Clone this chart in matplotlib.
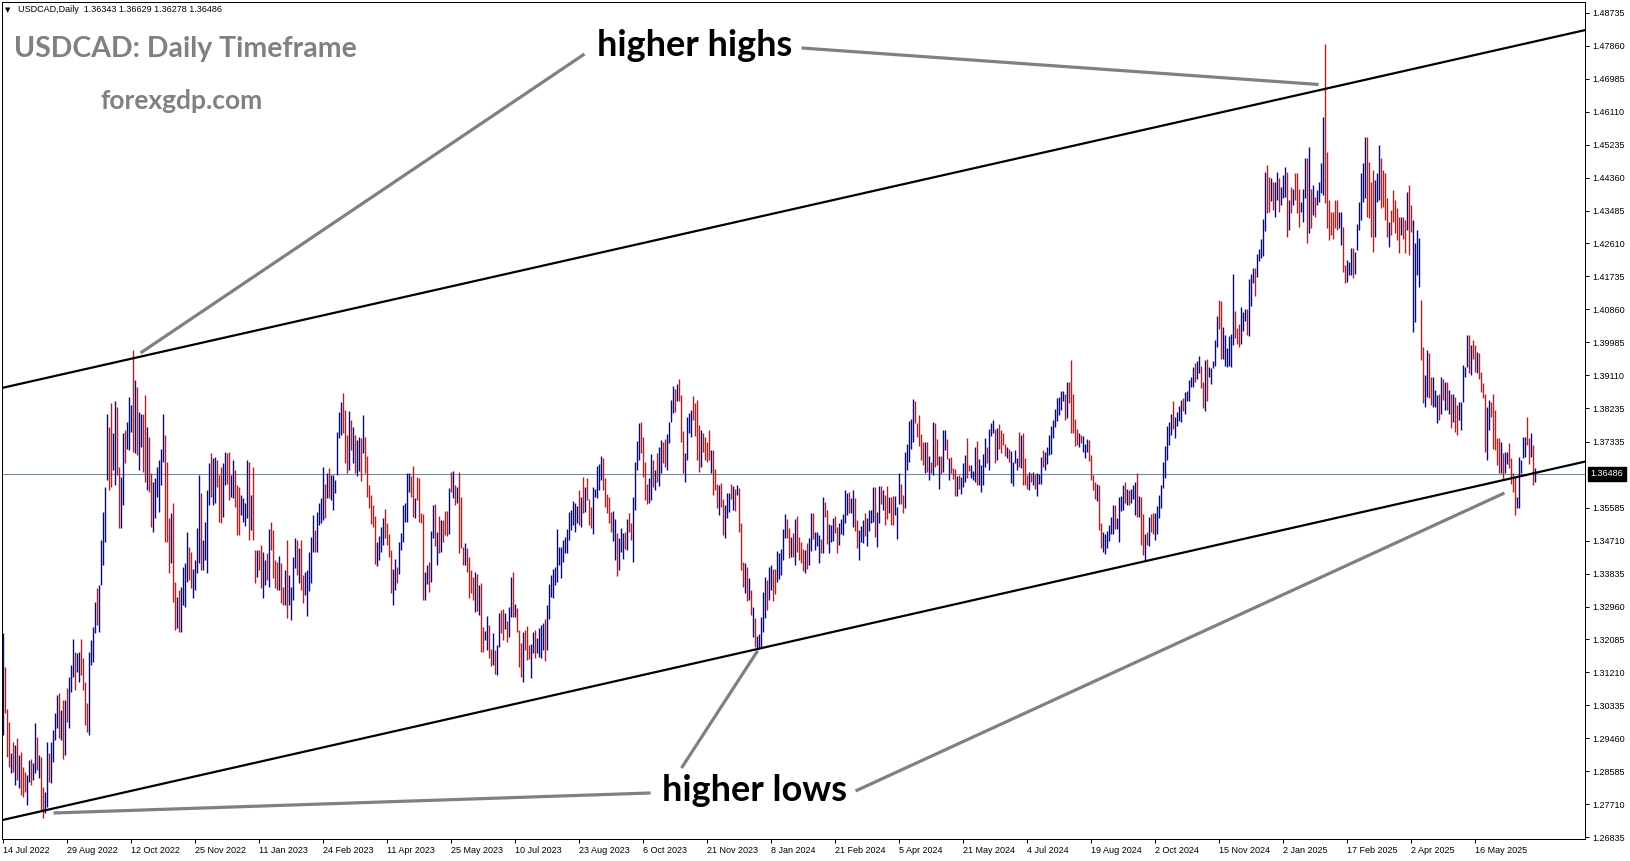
import numpy as np
import matplotlib
matplotlib.use("Agg")
import matplotlib.pyplot as plt
from matplotlib.transforms import blended_transform_factory

plt.rcParams['font.family'] = ['Liberation Sans', 'DejaVu Sans']

symbol = "USDCAD"
last_ohlc = [1.36343, 1.36629, 1.36278, 1.36486]

date_labels = ["14 Jul 2022", "29 Aug 2022", "12 Oct 2022", "25 Nov 2022", "11 Jan 2023",
               "24 Feb 2023", "11 Apr 2023", "25 May 2023", "10 Jul 2023", "23 Aug 2023",
               "6 Oct 2023", "21 Nov 2023", "8 Jan 2024", "21 Feb 2024", "5 Apr 2024",
               "21 May 2024", "4 Jul 2024", "19 Aug 2024", "2 Oct 2024", "15 Nov 2024",
               "2 Jan 2025", "17 Feb 2025", "2 Apr 2025", "16 May 2025"]
bars_per_label = 32

price_labels = ["1.26835", "1.27710", "1.28585", "1.29460", "1.30335", "1.31210",
                "1.32085", "1.32960", "1.33835", "1.34710", "1.35585", "1.37335",
                "1.38235", "1.39110", "1.39985", "1.40860", "1.41735", "1.42610",
                "1.43485", "1.44360", "1.45235", "1.46110", "1.46985", "1.47860", "1.48735"]

# daily highs / lows in pips (price * 10000)
bar_high = [
    13225, 13136, 13025, 12990, 12906, 12937, 12928, 12946, 12901, 12910,
    12870, 12857, 12848, 12888, 12892, 12879, 12986, 12950, 12901, 12897,
    12817, 12804, 12937, 12906, 12937, 12968, 13012, 13061, 13065, 13021,
    13048, 13048, 13079, 13110, 13141, 13211, 13176, 13172, 13176, 13211,
    13158, 13096, 13039, 13176, 13207, 13242, 13309, 13344, 13353, 13473,
    13548, 13615, 13809, 13774, 13836, 13756, 13841, 13827, 13668, 13640,
    13756, 13765, 13787, 13854, 13832, 13978, 13898, 13880, 13814, 13809,
    13809, 13858, 13774, 13747, 13650, 13628, 13637, 13668, 13685, 13716,
    13809, 13752, 13681, 13530, 13544, 13570, 13362, 13322, 13340, 13349,
    13402, 13411, 13495, 13455, 13442, 13397, 13420, 13504, 13646, 13597,
    13473, 13522, 13606, 13677, 13703, 13690, 13694, 13685, 13646, 13668,
    13677, 13708, 13703, 13708, 13646, 13685, 13659, 13619, 13615, 13592,
    13584, 13570, 13685, 13681, 13592, 13668, 13446, 13446, 13446, 13460,
    13442, 13420, 13437, 13502, 13522, 13500, 13420, 13415, 13430, 13411,
    13349, 13393, 13473, 13380, 13349, 13429, 13477, 13473, 13451, 13473,
    13380, 13389, 13393, 13442, 13482, 13539, 13500, 13548, 13570, 13584,
    13668, 13623, 13650, 13663, 13646, 13646, 13632, 13761, 13814, 13840,
    13864, 13818, 13752, 13816, 13792, 13774, 13752, 13739, 13747, 13743,
    13805, 13747, 13696, 13619, 13592, 13566, 13537, 13468, 13484, 13508,
    13532, 13555, 13518, 13490, 13446, 13397, 13422, 13402, 13468, 13492,
    13566, 13570, 13650, 13650, 13643, 13670, 13584, 13641, 13637, 13544,
    13542, 13389, 13406, 13415, 13497, 13566, 13568, 13495, 13537, 13526,
    13526, 13551, 13550, 13610, 13654, 13657, 13619, 13614, 13654, 13588,
    13455, 13464, 13451, 13429, 13393, 13375, 13389, 13382, 13353, 13358,
    13242, 13232, 13271, 13247, 13182, 13227, 13180, 13194, 13278, 13287,
    13289, 13280, 13258, 13296, 13375, 13389, 13304,
    13291, 13234, 13198,
    13229, 13234, 13244, 13194, 13196, 13229, 13234, 13212, 13240, 13247,
    13251, 13262, 13300, 13356, 13380, 13395, 13400, 13502, 13455, 13453,
    13473, 13482, 13502, 13546, 13553, 13577, 13570, 13563, 13606, 13586,
    13641, 13615, 13637, 13581, 13560, 13615, 13608, 13670, 13675, 13696,
    13690, 13637, 13595, 13588, 13548, 13551, 13528, 13491, 13479, 13504,
    13491, 13494, 13529, 13544, 13519, 13588, 13681, 13737, 13783, 13787,
    13747, 13681, 13623, 13637, 13701, 13685, 13659, 13703, 13719, 13739,
    13734, 13740, 13755, 13787, 13845, 13882, 13873, 13888, 13900, 13858,
    13763, 13705, 13801, 13810, 13818, 13856, 13836, 13845, 13779, 13765,
    13758, 13747, 13734, 13765, 13712, 13712, 13662, 13622, 13619, 13625,
    13581, 13566, 13597, 13599, 13623, 13616, 13608, 13619, 13610, 13519,
    13415, 13411, 13400, 13371, 13340, 13294, 13265, 13218, 13223, 13269,
    13335, 13375, 13366, 13400, 13406,
    13397, 13396, 13444, 13439, 13449,
    13502, 13542, 13529, 13506, 13482, 13492, 13529, 13537, 13482, 13468,
    13448, 13446, 13464, 13477, 13544, 13544, 13495, 13495, 13486, 13475,
    13586, 13573, 13553, 13515, 13513, 13530, 13537, 13508, 13519, 13528,
    13542, 13607, 13597, 13601, 13584, 13606, 13584, 13526, 13499, 13510,
    13526, 13545, 13530, 13553, 13553, 13615, 13615, 13548, 13617, 13617,
    13607, 13592, 13617, 13588, 13588, 13591, 13590, 13561, 13650, 13622,
    13592, 13706, 13728, 13790, 13794, 13848, 13841, 13785, 13805, 13755,
    13732, 13732, 13734, 13696, 13681, 13787, 13785, 13741, 13696, 13696,
    13765, 13765, 13740, 13692, 13694, 13663, 13661, 13644, 13646, 13639,
    13677, 13699, 13743, 13672, 13672, 13657, 13721, 13737, 13687, 13672,
    13701, 13743, 13721, 13767, 13783, 13792, 13767, 13770, 13781, 13765,
    13756, 13728, 13721, 13714, 13710, 13681, 13712, 13690, 13761,
    13751,
    13758, 13691, 13645, 13654, 13651, 13654, 13647, 13651, 13647, 13693,
    13712, 13707, 13721, 13751, 13777, 13791, 13821, 13851, 13853, 13868,
    13870, 13860, 13893, 13893, 13951, 13860, 13795, 13769, 13756, 13753,
    13749, 13727, 13741, 13739, 13699, 13646, 13628, 13623, 13619, 13518,
    13493, 13490, 13496, 13512, 13535, 13565, 13567, 13530, 13586, 13589,
    13619, 13628, 13609, 13605, 13609, 13620, 13628, 13651, 13591, 13586,
    13541, 13490, 13493, 13535, 13541, 13544, 13544, 13563, 13592, 13619,
    13679, 13723, 13777, 13786, 13809, 13842, 13800, 13814, 13828, 13846,
    13851, 13865, 13870, 13898, 13907, 13933, 13942, 13949, 13961, 13935,
    13893, 13952, 13953, 13933, 13930, 13949, 14005, 14067, 14110, 14107,
    14039, 14017, 13983, 14014, 14020, 14181, 14081, 14037, 14048, 14093,
    14079, 14086, 14086, 14166, 14179, 14195, 14197, 14233, 14247, 14272,
    14326, 14451, 14470, 14437, 14435, 14423,
    14425, 14452, 14434, 14412,
    14443, 14465, 14452, 14376, 14412, 14407, 14447, 14447, 14407, 14372,
    14407, 14487, 14487, 14518, 14407, 14416, 14385, 14403, 14425, 14474,
    14597, 14790, 14505, 14376, 14345, 14345, 14376, 14376, 14345, 14345,
    14306, 14204, 14217, 14213, 14248, 14248, 14239, 14314, 14372, 14447,
    14474, 14545, 14545, 14478, 14425, 14456, 14430, 14447, 14523, 14487,
    14456, 14447, 14381, 14319, 14350, 14403, 14376, 14354, 14332, 14332,
    14332, 14323, 14399, 14416, 14363, 14323, 14261, 14297, 14275, 14111,
    13987, 13911, 13978, 13969, 13907, 13907, 13871, 13858, 13862, 13907,
    13902, 13894, 13894, 13871, 13862, 13862, 13854, 13831, 13840, 13840,
    13938, 13933, 14017, 14017, 13991, 14004, 13991, 13973, 13969, 13920,
    13889, 13862, 13827, 13845, 13840, 13862, 13818, 13743, 13743, 13734,
    13703, 13707, 13707, 13730, 13690, 13650, 13641, 13588, 13694, 13685,
    13747, 13747, 13800, 13743, 13756, 13725, 13663,
]

bar_low = [
    12955, 13012, 12897, 12870, 12853, 12857, 12822, 12835, 12813, 12795,
    12791, 12804, 12768, 12830, 12822, 12835, 12853, 12861, 12839, 12755,
    12733, 12746, 12764, 12830, 12826, 12884, 12941, 12972, 12946, 12941,
    12892, 12901, 12990, 12972, 13070, 13110, 13074, 13123, 13096, 13114,
    13074, 12981, 12963, 12955, 13141, 13149, 13225, 13247, 13229, 13353,
    13406, 13468, 13632, 13606, 13615, 13659, 13619, 13646, 13504, 13504,
    13566, 13677, 13716, 13712, 13761, 13708, 13703, 13699, 13659, 13721,
    13654, 13628, 13606, 13601, 13508, 13495, 13530, 13588, 13548, 13619,
    13681, 13468, 13468, 13384, 13411, 13309, 13234, 13238, 13229, 13229,
    13300, 13296, 13362, 13366, 13344, 13318, 13340, 13384, 13411, 13393,
    13393, 13420, 13384, 13566, 13588, 13566, 13570, 13615, 13522, 13517,
    13535, 13619, 13623, 13579, 13588, 13584, 13561, 13486, 13486, 13539,
    13522, 13510, 13530, 13473, 13499, 13473, 13358, 13375, 13393, 13344,
    13318, 13353, 13367, 13349, 13446, 13371, 13344, 13340, 13340, 13305,
    13300, 13300, 13265, 13300, 13260, 13313, 13398, 13380, 13358, 13340,
    13305, 13327, 13271, 13336, 13358, 13442, 13442, 13442, 13513, 13517,
    13526, 13530, 13584, 13584, 13579, 13553, 13597, 13646, 13743, 13752,
    13756, 13677, 13650, 13659, 13712, 13677, 13650, 13643, 13655, 13630,
    13703, 13650, 13588, 13557, 13515, 13508, 13408, 13404, 13420, 13442,
    13459, 13477, 13459, 13428, 13333, 13300, 13340, 13359, 13382, 13446,
    13468, 13522, 13522, 13601, 13588, 13535, 13530, 13579, 13522, 13519,
    13313, 13313, 13357, 13335, 13362, 13477, 13457, 13406, 13437, 13442,
    13468, 13486, 13484, 13490, 13601, 13584, 13566, 13570, 13437, 13451,
    13406, 13406, 13389, 13318, 13333, 13313, 13282, 13285, 13274, 13176,
    13176, 13207, 13180, 13158, 13138, 13141, 13117, 13114, 13189, 13225,
    13207, 13235, 13202, 13216, 13269, 13269, 13269,
    13229, 13135, 13110,
    13095, 13180, 13154, 13156, 13105, 13172, 13158, 13172, 13163, 13158,
    13180, 13150, 13180, 13262, 13322, 13320, 13353, 13362, 13406, 13371,
    13415, 13437, 13439, 13473, 13499, 13513, 13495, 13517, 13513, 13508,
    13544, 13548, 13579, 13513, 13504, 13488, 13586, 13584, 13606, 13632,
    13606, 13561, 13544, 13517, 13493, 13471, 13420, 13377, 13393, 13442,
    13422, 13448, 13446, 13495, 13473, 13415, 13553, 13659, 13685, 13703,
    13641, 13579, 13569, 13570, 13579, 13613, 13606, 13628, 13616, 13652,
    13677, 13668, 13659, 13730, 13787, 13810, 13814, 13841, 13841, 13734,
    13650, 13628, 13685, 13756, 13746, 13792, 13748, 13685, 13654, 13668,
    13708, 13685, 13681, 13685, 13650, 13592, 13606, 13557, 13539, 13561,
    13486, 13477, 13530, 13548, 13581, 13553, 13551, 13592, 13495, 13393,
    13349, 13331, 13312, 13313, 13274, 13216, 13189, 13180, 13182, 13185,
    13229, 13265, 13287, 13313, 13340,
    13310, 13330, 13360, 13370, 13380,
    13420, 13477, 13477, 13424, 13428, 13428, 13406, 13442, 13420, 13411,
    13390, 13385, 13395, 13406, 13444, 13475, 13446, 13457, 13411, 13437,
    13439, 13535, 13462, 13439, 13468, 13470, 13491, 13439, 13460, 13489,
    13486, 13517, 13539, 13544, 13545, 13508, 13497, 13451, 13420, 13467,
    13466, 13483, 13457, 13497, 13519, 13522, 13482, 13455, 13519, 13568,
    13553, 13513, 13528, 13544, 13513, 13513, 13539, 13475, 13568, 13568,
    13545, 13557, 13659, 13681, 13714, 13734, 13783, 13746, 13723, 13685,
    13672, 13652, 13654, 13632, 13650, 13646, 13666, 13672, 13608, 13647,
    13654, 13712, 13687, 13631, 13650, 13634, 13591, 13590, 13608, 13595,
    13615, 13628, 13637, 13656, 13637, 13632, 13628, 13619, 13619, 13601,
    13619, 13666, 13678, 13659, 13749, 13756, 13678, 13685, 13716, 13705,
    13725, 13696, 13690, 13681, 13625, 13616, 13678, 13659, 13666,
    13665,
    13618, 13620, 13609, 13605, 13628, 13618, 13609, 13590, 13621, 13623,
    13667, 13658, 13674, 13698, 13702, 13744, 13772, 13788, 13806, 13819,
    13842, 13791, 13797, 13837, 13758, 13756, 13723, 13726, 13719, 13730,
    13707, 13691, 13707, 13682, 13632, 13607, 13583, 13577, 13499, 13451,
    13442, 13436, 13451, 13470, 13488, 13488, 13502, 13502, 13468, 13549,
    13553, 13572, 13567, 13565, 13572, 13581, 13539, 13533, 13535, 13460,
    13432, 13421, 13460, 13458, 13493, 13488, 13474, 13488, 13530, 13558,
    13611, 13637, 13686, 13726, 13753, 13769, 13744, 13777, 13788, 13786,
    13816, 13807, 13842, 13842, 13879, 13879, 13893, 13902, 13916, 13877,
    13823, 13816, 13842, 13907, 13888, 13930, 13935, 13986, 14033, 13955,
    13953, 13935, 13933, 13935, 13933, 13991, 14009, 13995, 13986, 13993,
    14028, 14054, 14017, 14014, 14095, 14156, 14121, 14172, 14214, 14223,
    14228, 14293, 14342, 14344, 14374, 14349,
    14332, 14376, 14345, 14363,
    14381, 14385, 14279, 14297, 14341, 14363, 14376, 14341, 14306, 14345,
    14319, 14381, 14261, 14288, 14301, 14336, 14332, 14363, 14372, 14394,
    14390, 14368, 14301, 14270, 14283, 14274, 14301, 14297, 14301, 14257,
    14186, 14155, 14159, 14177, 14177, 14168, 14181, 14243, 14297, 14323,
    14372, 14381, 14332, 14328, 14279, 14239, 14279, 14372, 14376, 14354,
    14359, 14323, 14279, 14252, 14283, 14319, 14288, 14270, 14235, 14283,
    14274, 14235, 14297, 14230, 14292, 14026, 14053, 14177, 14146, 13951,
    13836, 13827, 13854, 13849, 13832, 13827, 13827, 13783, 13792, 13809,
    13845, 13818, 13818, 13809, 13770, 13787, 13761, 13752, 13792, 13765,
    13840, 13907, 13933, 13916, 13911, 13955, 13920, 13916, 13902, 13867,
    13849, 13707, 13685, 13765, 13800, 13716, 13712, 13672, 13650, 13650,
    13632, 13650, 13676, 13663, 13623, 13601, 13539, 13557, 13557, 13650,
    13690, 13694, 13725, 13676, 13694, 13619, 13628,
]

# b = up bar (close > open), r = down bar
bar_dir = (
    "brrrbrbrbr" "rrbbrbbrbr" "rbbrbbbbrb" "rbrbbbrbbr" "rrrbbbbrbb"
    "bbbrrbbrrb" "brbbbrbrbb" "rrbrrbbbbb" "brrrbrrbrb" "bbbrrbbbbr"
    "bbbbrbbrrr" "bbrrbbrrrb" "bbbrbrrbrr"
    "bbrbrrrrbr" "rbrbbbbrbr" "rbbbbbrbbb" "brbrbbbbbb" "rrrbrbrbbr"
    "brrrrrrbbb" "brrrrbbrbb" "bbbbrrbrrr" "rbbrbbrbrb" "rrrbrbrbrr"
    "rbrrrrbrbr" "rbbrrbrbbr" "rbrbbrb"
    "rrr"
    "brrrbbrbbb" "brbbbbbbbb" "bbbbbbbbrb" "rbrrrbbbbb" "rrrrrbbrbb"
    "brbrrbbbbr" "rrrbbrbrbb" "rrbbbbrbrr" "rbbbbrrrrb" "rrrrbrrrbr"
    "rbbbrbrbrr" "rbrbrbrbbb" "bbrbb"
    "rrbbb"
    "bbrrbrbrrr" "rbrbbrbbbr" "brrbbbrrbb" "bbbrbbrrbb" "brbbbbrbbr"
    "brrbrrbbbr" "rbbbbbrrrr" "rbrbrbrrbr" "bbrbrrrbrb" "bbrrbbbrbb"
    "bbrbbbrbrr" "rrbrbbbbr"
    "b"
    "rrrbrbrbbb" "rbbbbbbbbb" "brbrrrrrbr" "bbbrrrrbrr" "bbbbbbrbbb"
    "brbrbbbrbr" "rbrbrrbbbb" "bbbbbrbbbb" "rbbbbbrbbr" "rbrbbbbbrr"
    "bbbbbbrrrb" "bbrbbbrbbb" "bbrrbr"
    "bbrb"
    "bbrbrbrrrb" "bbrbrbrbbb" "brrrrrrrbb" "rrbbbrbbbb" "bbrrrrbbbr"
    "rrrbrrrrrb" "rrbrrbbbbr" "rbbrrbbbrb" "rbrbrbrrbb" "bbbrbrrbrr"
    "rrbbrrrrrb" "rbbrrrrbbb" "bbrrbrb"
)

assert len(bar_high) == len(bar_low) == len(bar_dir), (len(bar_high), len(bar_low), len(bar_dir))

hi = np.array(bar_high) / 10000.0
lo = np.array(bar_low) / 10000.0
idx = np.arange(len(hi))
cols = ['#0000CD' if d == 'b' else '#FF0000' for d in bar_dir]

W, H = 1631, 861
fig = plt.figure(figsize=(W / 100, H / 100), dpi=100)
ax = fig.add_axes([2 / W, 22 / H, 1583 / W, 837 / H])
# 2 px per bar, bar centres on pixel centres
ax.set_xlim(-0.75, 790.75)
ax.set_ylim(1.26782, 1.49027)

# current price line
ax.axhline(last_ohlc[3], color='#778899', lw=0.75, zorder=1)

# bars
ax.vlines(idx, lo, hi, colors=cols, linewidth=1.0, antialiased=True, zorder=2)

# channel trend lines
ax.plot([-0.75, 791], [1.38770, 1.48283], color='black', lw=1.6, zorder=3)
ax.plot([-0.75, 791], [1.27284, 1.36815], color='black', lw=1.6, zorder=3)

# pointer lines
grey = '#808080'
for (x0, y0), (x1, y1) in [((290.5, 1.47645), (68.5, 1.39699)),
                           ((399, 1.47805), (657.5, 1.46835)),
                           ((323.5, 1.28005), (25, 1.27473)),
                           ((339, 1.28669), (377, 1.31779)),
                           ((426, 1.28058), (750.5, 1.35978))]:
    ax.plot([x0, x1], [y0, y1], color=grey, lw=2.3, solid_capstyle='butt', zorder=3)

ax.text(345.5, 1.47858, "higher highs", ha='center', va='center', fontsize=26,
        fontweight='bold', family='Lato', color='black', zorder=4)
ax.text(375.5, 1.28058, "higher lows", ha='center', va='center', fontsize=26,
        fontweight='bold', family='Lato', color='black', zorder=4)

# axes styling
for sp in ax.spines.values():
    sp.set_linewidth(0.72)
    sp.set_color('black')

ax.yaxis.tick_right()
ax.set_yticks([float(s) for s in price_labels])
ax.set_yticklabels(price_labels)
ax.tick_params(axis='y', direction='out', length=3, width=0.72, pad=2, labelsize=6.5)

ax.set_xticks(np.arange(len(date_labels)) * bars_per_label)
ax.set_xticklabels(date_labels, ha='left')
ax.tick_params(axis='x', direction='out', length=3, width=0.72, pad=2, labelsize=6.5)

# current price tag
trans = blended_transform_factory(ax.transAxes, ax.transData)
ax.text(1.0035, last_ohlc[3], f"{last_ohlc[3]:.5f}", transform=trans, color='white',
        fontsize=6.5, ha='left', va='center', clip_on=False, zorder=6,
        bbox=dict(boxstyle='square,pad=0.3', fc='black', ec='black'))

# header and titles
fig.text(5 / W, 1 - 10 / H, "\u25BC", family='DejaVu Sans', fontsize=5, va='center', ha='left')
fig.text(18 / W, 1 - 10 / H,
         f"{symbol},Daily  " + " ".join(f"{v:.5f}" for v in last_ohlc),
         fontsize=6.5, va='center', ha='left')
fig.text(14 / W, 1 - 49 / H, f"{symbol}: Daily Timeframe", family='Lato', fontweight='bold',
         fontsize=20.5, color=grey, va='center', ha='left')
fig.text(101 / W, 1 - 101 / H, "forexgdp.com", family='Lato', fontweight='bold',
         fontsize=19, color=grey, va='center', ha='left')

fig.savefig('out.png', dpi=100)
